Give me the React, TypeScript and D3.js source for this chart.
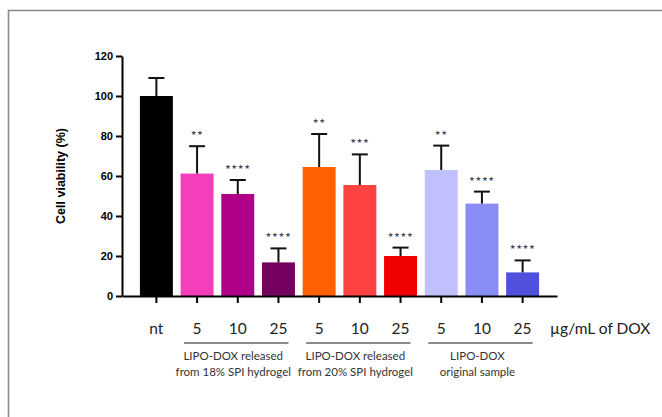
import { useEffect, useRef } from "react";
import * as d3 from "d3";

const CATEGORIES = ["nt", "5a", "10a", "25a", "5b", "10b", "25b", "5c", "10c", "25c"];
const TICK_LABELS = ["nt", "5", "10", "25", "5", "10", "25", "5", "10", "25"];
const MEANS = [100, 61.2, 51, 16.8, 64.5, 55.5, 20, 63, 46.2, 11.8];
const ERRORS = [9, 13.7, 7, 7, 16.5, 15.3, 4.2, 12.2, 6, 6];
const STARS = ["", "**", "****", "****", "**", "***", "****", "**", "****", "****"];
const COLORS = [
  "#000000", "#F43EBA", "#B0008A", "#76005F",
  "#FF6000", "#FF4242", "#F00000",
  "#C0C0FF", "#8A8CF6", "#5050DC",
];
const GROUPS = [
  { from: "5a", to: "25a", lines: ["LIPO-DOX released", "from 18% SPI hydrogel"] },
  { from: "5b", to: "25b", lines: ["LIPO-DOX released", "from 20% SPI hydrogel"] },
  { from: "5c", to: "25c", lines: ["LIPO-DOX", "original sample"] },
];
const Y_TICKS = [0, 20, 40, 60, 80, 100, 120];

export default function App() {
  const svgRef = useRef<SVGSVGElement>(null);

  useEffect(() => {
    if (!svgRef.current) return;
    const svg = d3.select(svgRef.current);
    svg.selectAll("*").remove();

    // frame
    svg.append("path")
      .attr("d", "M8.5,420 L8.5,10.5 L670,10.5")
      .attr("fill", "none")
      .attr("stroke", "#8a8a8a")
      .attr("stroke-width", 1.6);

    const left = 122, right = 557, bottom = 296, top = 56;

    const x = d3.scaleBand<string>()
      .domain(CATEGORIES)
      .range([left, right])
      .paddingInner(0.19)
      .paddingOuter(0.44);
    const y = d3.scaleLinear().domain([0, 120]).range([bottom, top]);

    const g = svg.append("g");

    // bars
    g.selectAll("rect.bar")
      .data(CATEGORIES)
      .join("rect")
      .attr("class", "bar")
      .attr("x", (d) => x(d)!)
      .attr("width", x.bandwidth())
      .attr("y", (d, i) => y(MEANS[i]))
      .attr("height", (d, i) => bottom - y(MEANS[i]))
      .attr("fill", (d, i) => COLORS[i]);

    // error bars (upper only) + significance stars
    CATEGORIES.forEach((c, i) => {
      const cx = x(c)! + x.bandwidth() / 2;
      const yt = y(MEANS[i] + ERRORS[i]);
      g.append("line")
        .attr("x1", cx).attr("x2", cx)
        .attr("y1", y(MEANS[i])).attr("y2", yt)
        .attr("stroke", "#111").attr("stroke-width", 2);
      g.append("line")
        .attr("x1", cx - 8).attr("x2", cx + 8)
        .attr("y1", yt).attr("y2", yt)
        .attr("stroke", "#111").attr("stroke-width", 2);
      if (STARS[i]) {
        g.append("text")
          .attr("x", cx)
          .attr("y", yt - 11)
          .attr("text-anchor", "middle")
          .attr("fill", "#4a4a5a")
          .attr("font-size", "6.5px")
          .attr("letter-spacing", "0.6px")
          .attr("font-family", "DejaVu Sans")
          .text(STARS[i].replace(/\*/g, "\u2605"));
      }
    });

    // y axis
    const yAxis = svg.append("g")
      .attr("transform", `translate(${left},0)`)
      .call(d3.axisLeft(y).tickValues(Y_TICKS).tickSize(6).tickPadding(3).tickSizeOuter(0));
    yAxis.select(".domain").attr("stroke", "#000").attr("stroke-width", 2);
    yAxis.selectAll(".tick line").attr("stroke", "#000").attr("stroke-width", 2);
    yAxis.selectAll(".tick text")
      .attr("fill", "#000")
      .attr("font-size", "11px")
      .attr("font-weight", "bold")
      .attr("font-family", "Liberation Sans, Arial, sans-serif");

    // x axis
    const xAxis = svg.append("g")
      .attr("transform", `translate(0,${bottom})`)
      .call(d3.axisBottom(x).tickSize(7).tickSizeOuter(0).tickFormat(() => ""));
    xAxis.select(".domain").attr("stroke", "#000").attr("stroke-width", 2);
    xAxis.selectAll(".tick line").attr("stroke", "#000").attr("stroke-width", 2);

    // category labels
    CATEGORIES.forEach((c, i) => {
      svg.append("text")
        .attr("x", x(c)! + x.bandwidth() / 2)
        .attr("y", 334)
        .attr("text-anchor", "middle")
        .attr("fill", "#222")
        .attr("font-size", "15.5px")
        .attr("font-family", "Lato, sans-serif")
        .text(TICK_LABELS[i]);
    });

    svg.append("text")
      .attr("x", 550)
      .attr("y", 334)
      .attr("fill", "#222")
      .attr("font-size", "15.5px")
      .attr("font-family", "Lato, sans-serif")
      .text("µg/mL of DOX");

    // group brackets
    GROUPS.forEach((gr) => {
      const x1 = x(gr.from)! + x.bandwidth() / 2 - 13;
      const x2 = x(gr.to)! + x.bandwidth() / 2 + 10;
      svg.append("line")
        .attr("x1", x1).attr("x2", x2)
        .attr("y1", 343).attr("y2", 343)
        .attr("stroke", "#8a8a8a").attr("stroke-width", 2);
      gr.lines.forEach((t, j) => {
        svg.append("text")
          .attr("x", (x1 + x2) / 2 - 3)
          .attr("y", 360 + j * 16)
          .attr("text-anchor", "middle")
          .attr("fill", "#333")
          .attr("font-size", "11.5px")
          .attr("font-family", "Lato, sans-serif")
          .text(t);
      });
    });

    // y label
    svg.append("text")
      .attr("transform", "translate(65,176) rotate(-90)")
      .attr("text-anchor", "middle")
      .attr("fill", "#000")
      .attr("font-size", "12.5px")
      .attr("font-weight", "bold")
      .attr("font-family", "Liberation Sans, Arial, sans-serif")
      .text("Cell viability (%)");
  }, []);

  return (
    <svg
      ref={svgRef}
      width={662}
      height={417}
      style={{ position: "absolute", left: 0, top: 0, background: "#fff" }}
    />
  );
}
